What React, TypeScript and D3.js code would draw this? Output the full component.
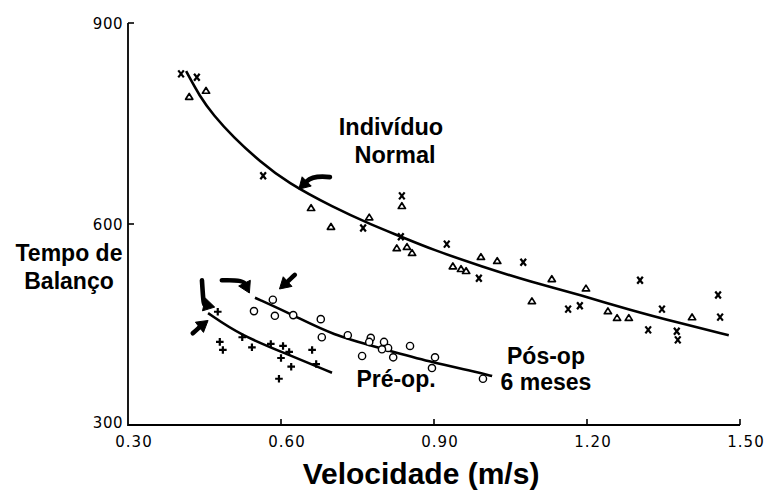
import React from "react";
import * as d3 from "d3";

// ---- data (velocity m/s, swing time) ----
const xTicks = [0.3, 0.6, 0.9, 1.2, 1.5];
const xTickLabels = ["0.30", "0.60", "0.90", "1.20", "1.50"];
const yTicks = [300, 600, 900];
const yTickLabels = ["300", "600", "900"];

const normalX: [number, number][] = [
  [0.404, 824], [0.435, 819], [0.565, 672], [0.761, 594], [0.837, 642], [0.835, 581],
  [0.925, 570], [0.988, 519], [1.075, 543], [1.163, 473], [1.186, 478], [1.304, 516],
  [1.347, 473], [1.32, 442], [1.376, 440], [1.378, 427], [1.457, 494], [1.461, 461],
];
const normalTri: [number, number][] = [
  [0.42, 790], [0.453, 799], [0.659, 624], [0.698, 596], [0.773, 610], [0.837, 627],
  [0.827, 564], [0.847, 566], [0.857, 557], [0.992, 551], [1.024, 545], [0.937, 537],
  [0.953, 533], [0.963, 530], [1.131, 518], [1.092, 485], [1.198, 504], [1.241, 470],
  [1.259, 460], [1.282, 460], [1.406, 461],
];
const normalCurve: [number, number][] = [
  [0.414, 828], [0.441, 790], [0.467, 763], [0.506, 730], [0.559, 693], [0.612, 662],
  [0.702, 625], [0.78, 598], [0.833, 582], [0.896, 562], [0.996, 536], [1.088, 514],
  [1.192, 493], [1.278, 473], [1.382, 452], [1.478, 434],
];
const prePlus: [number, number][] = [
  [0.476, 469], [0.48, 424], [0.486, 412], [0.524, 431], [0.543, 416], [0.58, 421],
  [0.604, 418], [0.616, 409], [0.6, 400], [0.62, 387], [0.596, 369], [0.661, 412],
  [0.669, 391],
];
const preCurve: [number, number][] = [
  [0.457, 467], [0.52, 434], [0.618, 404], [0.7, 378],
];
const posCircles: [number, number][] = [
  [0.584, 487], [0.547, 470], [0.588, 463], [0.624, 464], [0.678, 458], [0.68, 431],
  [0.731, 434], [0.759, 403], [0.776, 430], [0.773, 424], [0.802, 424], [0.81, 415],
  [0.82, 401], [0.798, 413], [0.853, 418], [0.902, 401], [0.896, 385], [0.996, 369],
];
const posCurve: [number, number][] = [
  [0.549, 490], [0.624, 464], [0.702, 434], [0.794, 415], [0.892, 394], [0.984, 379],
  [1.014, 373],
];
// annotation arrows: tail, control, tip (data coords)
const arrows: [number, number][][] = [
  [[0.696, 670], [0.663, 673], [0.635, 652]],
  [[0.445, 516], [0.448, 480], [0.47, 476]],
  [[0.484, 516], [0.525, 517], [0.538, 497]],
  [[0.627, 524], [0.61, 512], [0.597, 503]],
  [[0.427, 437], [0.442, 447], [0.457, 456]],
];

const W = 766;
const H = 499;

export default function App() {
  const x = d3.scaleLinear().domain([0.3, 1.5]).range([128, 740]);
  const y = d3.scaleLinear().domain([300, 900]).range([425, 23]);
  const line = d3
    .line<[number, number]>()
    .x((d) => x(d[0]))
    .y((d) => y(d[1]))
    .curve(d3.curveBasis);

  const x0 = x(0.3);
  const y0 = y(300);
  const tickFont = "'DejaVu Sans', sans-serif";
  const boldFont = "'Liberation Sans', Arial, sans-serif";

  const arrowEls = arrows.map((a, i) => {
    const [t, c, p] = a.map((d) => [x(d[0]), y(d[1])]);
    const ang = Math.atan2(p[1] - c[1], p[0] - c[0]);
    const L = 11;
    const Wd = 6.5;
    const bx = p[0] - L * Math.cos(ang);
    const by = p[1] - L * Math.sin(ang);
    const nx = -Math.sin(ang);
    const ny = Math.cos(ang);
    const head = `M${p[0]},${p[1]} L${bx + nx * Wd},${by + ny * Wd} L${bx - nx * Wd},${by - ny * Wd} Z`;
    return (
      <g key={"a" + i}>
        <path
          d={`M${t[0]},${t[1]} Q${c[0]},${c[1]} ${bx},${by}`}
          fill="none"
          stroke="#000"
          strokeWidth={4.6}
          strokeLinecap="round"
        />
        <path d={head} fill="#000" stroke="#000" strokeWidth={1} strokeLinejoin="round" />
      </g>
    );
  });

  return (
    <svg
      width={W}
      height={H}
      style={{ position: "absolute", left: 0, top: 0, background: "#fff" }}
    >
      {/* axes */}
      <path
        d={`M${x0},${y(900)} L${x0},${y0} L${x(1.5)},${y0}`}
        fill="none"
        stroke="#000"
        strokeWidth={1.8}
      />
      {yTicks.map((t, i) => (
        <g key={"yt" + i}>
          {t !== 300 && (
            <line x1={x0} x2={x0 + 6} y1={y(t)} y2={y(t)} stroke="#000" strokeWidth={1.6} />
          )}
          <text
            x={x0 - 5}
            y={y(t) + (t === 300 ? -2 : 1)}
            textAnchor="end"
            dominantBaseline="central"
            fontFamily={tickFont}
            fontSize={15}
            letterSpacing={0.5}
          >
            {yTickLabels[i]}
          </text>
        </g>
      ))}
      {xTicks.map((t, i) => (
        <g key={"xt" + i}>
          {t !== 0.3 && (
            <line x1={x(t)} x2={x(t)} y1={y0} y2={y0 - 6} stroke="#000" strokeWidth={1.6} />
          )}
          <text
            x={x(t) + 6}
            y={y0 + 17}
            textAnchor="middle"
            dominantBaseline="central"
            fontFamily={tickFont}
            fontSize={15}
            letterSpacing={1}
          >
            {xTickLabels[i]}
          </text>
        </g>
      ))}

      {/* fitted curves */}
      <path d={line(normalCurve) || ""} fill="none" stroke="#000" strokeWidth={2.6} />
      <path d={line(preCurve) || ""} fill="none" stroke="#000" strokeWidth={2.6} />
      <path d={line(posCurve) || ""} fill="none" stroke="#000" strokeWidth={2.6} />

      {/* markers */}
      {normalX.map((d, i) => {
        const cx = x(d[0]);
        const cy = y(d[1]);
        return (
          <path
            key={"nx" + i}
            d={`M${cx - 2.8},${cy - 3.5} L${cx + 2.8},${cy + 3.5} M${cx + 2.8},${cy - 3.5} L${cx - 2.8},${cy + 3.5}`}
            stroke="#000"
            strokeWidth={2.2}
          />
        );
      })}
      {normalTri.map((d, i) => {
        const cx = x(d[0]);
        const cy = y(d[1]);
        return (
          <path
            key={"nt" + i}
            d={`M${cx},${cy - 3.2} L${cx + 3.6},${cy + 2.6} L${cx - 3.6},${cy + 2.6} Z`}
            fill="#fff"
            stroke="#000"
            strokeWidth={1.7}
            strokeLinejoin="round"
          />
        );
      })}
      {posCircles.map((d, i) => (
        <circle
          key={"pc" + i}
          cx={x(d[0])}
          cy={y(d[1])}
          r={3.6}
          fill="#fff"
          stroke="#000"
          strokeWidth={1.4}
        />
      ))}
      {prePlus.map((d, i) => {
        const cx = x(d[0]);
        const cy = y(d[1]);
        return (
          <path
            key={"pp" + i}
            d={`M${cx - 3.8},${cy} L${cx + 3.8},${cy} M${cx},${cy - 3.8} L${cx},${cy + 3.8}`}
            stroke="#000"
            strokeWidth={2.2}
          />
        );
      })}

      {arrowEls}

      {/* labels */}
      <g fontFamily={boldFont} fontWeight="bold" fontSize={23} textAnchor="middle">
        <text x={391} y={135} fontSize={23.5}>Indivíduo</text>
        <text x={395} y={163} fontSize={23.5}>Normal</text>
        <text x={69} y={261}>Tempo de</text>
        <text x={69} y={289}>Balanço</text>
        <text x={546} y={364}>Pós-op</text>
        <text x={546} y={390}>6 meses</text>
        <text x={396} y={387}>Pré-op.</text>
      </g>
      <text
        x={421}
        y={484}
        textAnchor="middle"
        fontFamily={boldFont}
        fontWeight="bold"
        fontSize={30}
      >
        Velocidade (m/s)
      </text>
    </svg>
  );
}
